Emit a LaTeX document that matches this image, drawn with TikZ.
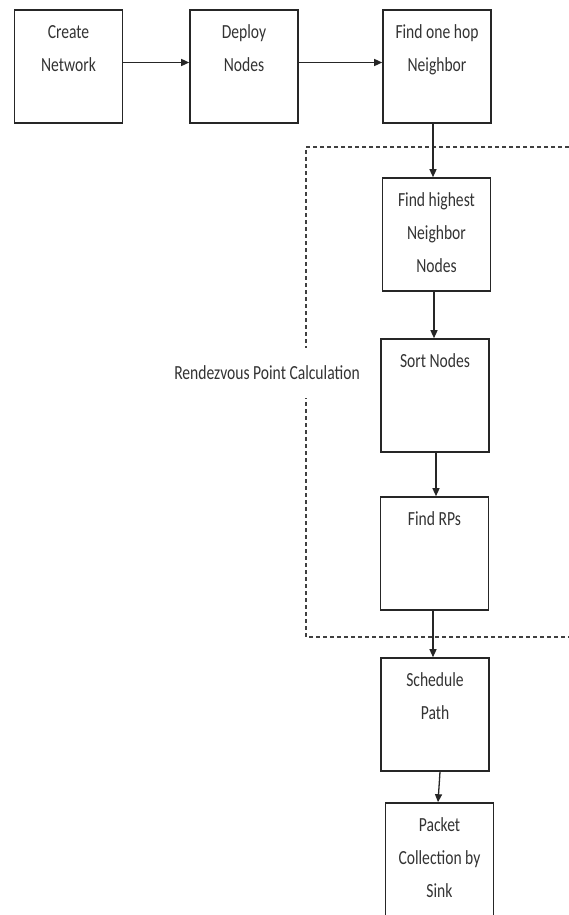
\documentclass[tikz,border=0pt]{standalone}
\usepackage{fontspec}
\setmainfont{Carlito}[FakeStretch=0.78]
\usetikzlibrary{arrows.meta}
\begin{document}
\begin{tikzpicture}[x=1pt,y=-1pt,
  box/.style={draw=black!85, line width=1.6pt, minimum width=108pt, minimum height=113pt, inner sep=0pt},
  txt/.style={anchor=north, inner sep=0pt, align=center, text=black!80, font=\fontsize{20}{33}\selectfont},
  arr/.style={draw=black!85, line width=1.3pt, -{Triangle[length=8pt,width=7pt]}},
  frame/.style={draw=black!75, line width=1.1pt, dash pattern=on 4pt off 3pt},
  lbl/.style={fill=white, inner xsep=1pt, minimum height=50pt, text=black!80, font=\fontsize{20}{24}\selectfont}
]
\useasboundingbox (0,0) rectangle (569,915);
\clip (0,0) rectangle (569,915);

% dashed frame (open to the right, cut by the page edge)
\draw[frame] (569,147) -- (306,147) -- (306,637) -- (569,637);

% boxes
\node[box] (cn) at (68.5,66.5) {};
\node[box] (dn) at (244,66.5) {};
\node[box] (fo) at (437,66.5) {};
\node[box] (fh) at (436.5,234.5) {};
\node[box] (sn) at (435,395.5) {};
\node[box] (rp) at (434.5,553.5) {};
\node[box] (sp) at (435,714.5) {};
\node[box] (pk) at (439.5,859.5) {};

% box texts
\node[txt] (cnt) at ([yshift=-13pt]cn.north) {\rule{0pt}{16pt}Create\\Network};
\node[txt] (dnt) at ([yshift=-13pt]dn.north) {\rule{0pt}{16pt}Deploy\\Nodes};
\node[txt] (fot) at ([yshift=-13pt]fo.north) {\rule{0pt}{16pt}Find one hop\\Neighbor};
\node[txt] (fht) at ([yshift=-13pt]fh.north) {\rule{0pt}{16pt}Find highest\\Neighbor\\Nodes};
\node[txt] (snt) at ([yshift=-13pt]sn.north) {\rule{0pt}{16pt}Sort Nodes};
\node[txt] (rpt) at ([yshift=-13pt]rp.north) {\rule{0pt}{16pt}Find RPs};
\node[txt] (spt) at ([yshift=-13pt]sp.north) {\rule{0pt}{16pt}Schedule\\Path};
\node[txt] (pkt) at ([yshift=-13pt]pk.north) {\rule{0pt}{16pt}Packet\\Collection by\\Sink};

% frame label
\node[lbl] (rpc) at (267,373) {Rendezvous Point Calculation};

% connectors
\draw[arr] ([yshift=4pt]cn.east) -- ([yshift=4pt]dn.west);
\draw[arr] ([yshift=4pt]dn.east) -- ([yshift=4pt]fo.west);
\draw[arr] ([xshift=-4pt]fo.south) -- ([xshift=-4pt]fo.south |- fh.north);
\draw[arr] ([xshift=-2.5pt]fh.south) -- ([xshift=-2.5pt]fh.south |- sn.north);
\draw[arr] ([xshift=1pt]sn.south) -- ([xshift=1pt]sn.south |- rp.north);
\draw[arr] ([xshift=-1.5pt]rp.south) -- ([xshift=-1.5pt]rp.south |- sp.north);
\draw[arr] ([xshift=5pt]sp.south) -- ([xshift=-1.5pt]pk.north);
\end{tikzpicture}
\end{document}
